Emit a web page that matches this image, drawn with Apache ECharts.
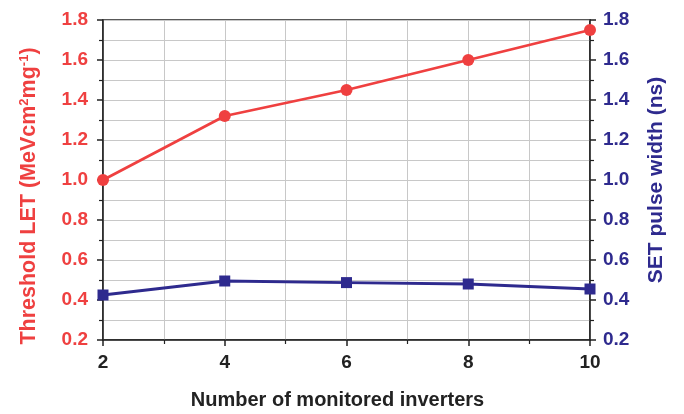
<!DOCTYPE html>
<html><head><meta charset="utf-8">
<script src="https://cdn.jsdelivr.net/npm/echarts@6/dist/echarts.min.js"></script>
<style>html,body{margin:0;padding:0;background:#fff}#c{width:684px;height:414px}</style>
</head><body><div id="c"></div>
<script>
const inverters = [2, 4, 6, 8, 10];
const thresholdLET = [1.0, 1.32, 1.45, 1.6, 1.75];
const pulseWidth = [0.425, 0.495, 0.487, 0.48, 0.455];
const yTicks = [0.2, 0.4, 0.6, 0.8, 1.0, 1.2, 1.4, 1.6, 1.8];

const RED = '#ef4040';
const BLUE = '#2e2a8e';
const AX = '#222';
const GRIDC = '#c8c8c8';
const FONT = 'Liberation Sans, Arial, sans-serif';

const chart = echarts.init(document.getElementById('c'), null, {renderer: 'canvas'});
const fmt = v => v.toFixed(1);
chart.setOption({
  animation: false,
  grid: {left: 103, right: 94, top: 20, bottom: 74, outerBoundsMode: 'none', containLabel: false,
         show: true, borderColor: AX, borderWidth: 1.5, backgroundColor: 'transparent'},
  xAxis: {
    type: 'value', min: inverters[0], max: inverters[inverters.length - 1], interval: 2,
    name: 'Number of monitored inverters', nameLocation: 'middle', nameGap: 50,
    nameTextStyle: {fontFamily: FONT, fontWeight: 'bold', fontSize: 20, color: AX, padding: [0, 18, 0, 0]},
    axisLine: {show: true, lineStyle: {color: AX, width: 1.5}},
    axisTick: {show: true, inside: false, length: 6, lineStyle: {color: AX, width: 1.5}},
    minorTick: {show: true, splitNumber: 2, length: 4, lineStyle: {color: AX, width: 1.2}},
    axisLabel: {fontFamily: FONT, fontWeight: 'bold', fontSize: 19, color: AX, margin: 13},
    splitLine: {show: true, lineStyle: {color: GRIDC, width: 1}},
    minorSplitLine: {show: true, lineStyle: {color: GRIDC, width: 1}}
  },
  yAxis: [{
    type: 'value', position: 'left', min: yTicks[0], max: yTicks[yTicks.length - 1], interval: 0.2,
    name: '{t|Threshold LET (MeVcm}{s|2}{t|mg}{s|-1}{t|)}', nameLocation: 'middle', nameGap: 62, nameRotate: 90,
    nameTextStyle: {color: RED, padding: [0, 32, 0, 0], rich: {
      t: {fontFamily: FONT, fontWeight: 'bold', fontSize: 21.5, color: RED},
      s: {fontFamily: FONT, fontWeight: 'bold', fontSize: 13, color: RED, verticalAlign: 'top', padding: [0, 0, 10, 0]}
    }},
    axisLine: {show: true, lineStyle: {color: AX, width: 1.5}},
    axisTick: {show: true, inside: false, length: 6, lineStyle: {color: AX, width: 1.5}},
    minorTick: {show: true, splitNumber: 2, length: 4, lineStyle: {color: AX, width: 1.2}},
    axisLabel: {fontFamily: FONT, fontWeight: 'bold', fontSize: 19, color: RED, margin: 15, formatter: fmt},
    splitLine: {show: true, lineStyle: {color: GRIDC, width: 1}},
    minorSplitLine: {show: true, lineStyle: {color: GRIDC, width: 1}}
  }, {
    type: 'value', position: 'right', min: yTicks[0], max: yTicks[yTicks.length - 1], interval: 0.2,
    name: 'SET pulse width (ns)', nameLocation: 'middle', nameGap: 56, nameRotate: 90,
    nameTextStyle: {fontFamily: FONT, fontWeight: 'bold', fontSize: 21, color: BLUE},
    axisLine: {show: true, lineStyle: {color: AX, width: 1.5}},
    axisTick: {show: true, inside: false, length: 6, lineStyle: {color: AX, width: 1.5}},
    minorTick: {show: true, splitNumber: 2, length: 4, lineStyle: {color: AX, width: 1.2}},
    axisLabel: {fontFamily: FONT, fontWeight: 'bold', fontSize: 19, color: BLUE, margin: 13, formatter: fmt},
    splitLine: {show: false}
  }],
  series: [{
    type: 'line', yAxisIndex: 0, data: inverters.map((x, i) => [x, thresholdLET[i]]),
    symbol: 'circle', symbolSize: 12, clip: false,
    lineStyle: {color: RED, width: 2.8}, itemStyle: {color: RED}
  }, {
    type: 'line', yAxisIndex: 1, data: inverters.map((x, i) => [x, pulseWidth[i]]),
    symbol: 'rect', symbolSize: 11, clip: false,
    lineStyle: {color: BLUE, width: 2.8}, itemStyle: {color: BLUE}
  }]
});
</script></body></html>
